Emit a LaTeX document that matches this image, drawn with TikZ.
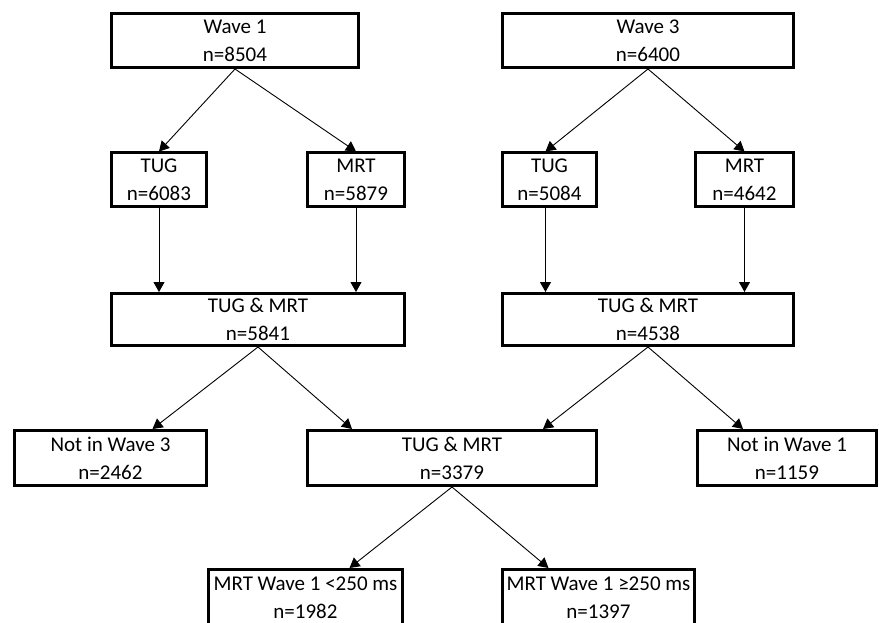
\documentclass[tikz,border=0pt]{standalone}
\usepackage{fontspec}
\setmainfont{Carlito}
\usetikzlibrary{arrows.meta}

\tikzset{
  stage/.style={draw, line width=3pt, inner sep=0pt, align=center,
    minimum height=54pt, font=\fontsize{21}{28}\selectfont},
  flow/.style={line width=0.9pt, -{Triangle[width=11pt,length=10pt]}},
}

\begin{document}
\begin{tikzpicture}[x=1pt, y=-1pt]
\useasboundingbox (0,0) rectangle (879,623);
\clip (0,0) rectangle (879,623);

\node[stage, minimum width=247pt] (wave1) at (235,40.5) {Wave 1\\n=8504};
\node[stage, minimum width=291pt] (wave3) at (648,40.5) {Wave 3\\n=6400};

\node[stage, minimum width=95pt] (tug1) at (159,180) {TUG\\n=6083};
\node[stage, minimum width=97pt] (mrt1) at (356,180) {MRT\\n=5879};
\node[stage, minimum width=94pt] (tug3) at (549.5,180) {TUG\\n=5084};
\node[stage, minimum width=98pt] (mrt3) at (744.5,180) {MRT\\n=4642};

\node[stage, minimum width=293pt, minimum height=52pt] (both1) at (258,319.5) {TUG \& MRT\\n=5841};
\node[stage, minimum width=291pt, minimum height=52pt] (both3) at (648,319.5) {TUG \& MRT\\n=4538};

\node[stage, minimum width=192pt, minimum height=55pt] (notw3) at (110.5,458) {Not in Wave 3\\n=2462};
\node[stage, minimum width=289pt, minimum height=55pt] (both13) at (452,458) {TUG \& MRT\\n=3379};
\node[stage, minimum width=179pt, minimum height=55pt] (notw1) at (787,458) {Not in Wave 1\\n=1159};

\node[stage, minimum width=194pt, minimum height=57pt] (fast) at (305.5,598) {MRT Wave 1 <250 ms\\n=1982};
\node[stage, minimum width=192pt, minimum height=57pt] (slow) at (598.5,598) {MRT Wave 1 ≥250 ms\\n=1397};

\draw[flow] (wave1.south) -- (tug1.north);
\draw[flow] (wave1.south) -- (mrt1.north);
\draw[flow] (wave3.south) -- ([xshift=-4pt]tug3.north);
\draw[flow] (wave3.south) -- (mrt3.north);

\draw[flow] (tug1.south) -- (tug1.south |- both1.north);
\draw[flow] (mrt1.south) -- (mrt1.south |- both1.north);
\draw[flow] ([xshift=-4pt]tug3.south) -- ([xshift=-4pt]tug3.south |- both3.north);
\draw[flow] (mrt3.south) -- (mrt3.south |- both3.north);

\draw[flow] (both1.south) -- ([xshift=42pt]notw3.north);
\draw[flow] (both1.south) -- ([xshift=-100pt]both13.north);
\draw[flow] (both3.south) -- ([xshift=91pt]both13.north);
\draw[flow] (both3.south) -- ([xshift=-44pt]notw1.north);

\draw[flow] (both13.south) -- ([xshift=44pt]fast.north);
\draw[flow] (both13.south) -- ([xshift=-50pt]slow.north);
\end{tikzpicture}
\end{document}
